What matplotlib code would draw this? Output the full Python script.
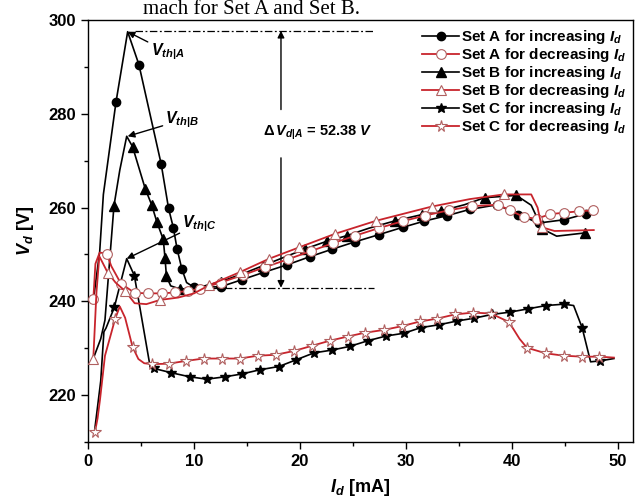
import matplotlib
matplotlib.use("Agg")
from matplotlib import pyplot as plt
from matplotlib.ticker import MultipleLocator

# 字体：Arial 风格的粗体
plt.rcParams["font.family"] = ["Liberation Sans", "DejaVu Sans"]
plt.rcParams["font.weight"] = "bold"
plt.rcParams["axes.labelweight"] = "bold"
plt.rcParams["mathtext.fontset"] = "custom"
plt.rcParams["mathtext.rm"] = "Liberation Sans:bold"
plt.rcParams["mathtext.it"] = "Liberation Sans:italic:bold"
plt.rcParams["mathtext.bf"] = "Liberation Sans:bold"

RED = "#c8242c"
OPEN_EDGE = "#b06060"

# Set A, 增大 I_d
a_up_x = [0.5, 1.1, 1.45, 2.64, 3.74, 4.8, 6.9, 7.6, 8.05, 8.4, 8.84, 9.3, 10.0, 12.5,
          14.5, 16.6, 18.8, 20.9, 23.0, 25.2, 27.4, 29.7, 31.7, 33.9, 36.0, 38.6, 40.6,
          42.5, 44.9, 47.0]
a_up_y = [240.2, 250.5, 262.8, 282.5, 297.5, 290.5, 269.3, 259.8, 255.7, 251.2, 247.0,
          244.0, 243.0, 243.1, 244.6, 246.2, 247.8, 249.5, 251.1, 252.7, 254.2, 255.8,
          257.1, 258.3, 259.6, 260.6, 258.5, 256.7, 257.4, 258.7]
a_up_mk = [3, 5, 6, 7, 8, 9, 10, 12] + list(range(13, 30))

# Set A, 减小 I_d
a_dn_x = [0.5, 0.7, 1.1, 1.76, 2.2, 3.1, 4.4, 5.7, 7.0, 8.2, 9.4, 10.6, 12.5, 14.6, 16.7,
          18.9, 21.0, 23.1, 25.2, 27.4, 29.7, 31.8, 34.0, 36.2, 38.7, 39.8, 41.1, 42.3,
          43.6, 44.9, 46.3, 47.6]
a_dn_y = [240.4, 248.0, 250.4, 250.2, 247.5, 243.8, 241.8, 241.7, 241.7, 241.9, 242.2,
          242.7, 244.0, 245.6, 247.3, 249.0, 250.7, 252.4, 254.0, 255.6, 257.1, 258.3,
          259.4, 260.3, 260.6, 259.4, 258.0, 257.6, 258.6, 258.9, 259.2, 259.4]
a_dn_mk = [0, 3] + list(range(5, 32))

# Set B, 增大 I_d
b_up_x = [0.5, 1.2, 1.6, 2.0, 2.45, 3.0, 3.65, 4.2, 5.4, 6.0, 6.5, 7.1, 7.26, 7.4, 7.8,
          8.7, 10.5, 12.5, 14.5, 16.5, 18.5, 20.5, 22.5, 24.4, 26.5, 29.0, 31.5, 33.3,
          35.5, 37.4, 40.4, 41.8, 42.5, 42.8, 44.2, 46.9]
b_up_y = [227.8, 232.0, 236.0, 247.5, 260.4, 268.0, 275.2, 273.0, 264.0, 260.6, 256.9,
          253.2, 249.3, 245.3, 243.3, 242.6, 243.0, 244.2, 245.8, 247.6, 249.4, 251.2,
          252.8, 254.0, 255.6, 257.2, 258.5, 259.3, 260.6, 262.1, 262.6, 260.5, 257.1,
          255.5, 253.9, 254.6]
b_up_mk = [4, 7, 8, 9, 10, 11, 12, 13, 15, 17, 19, 21, 22, 23, 25, 26, 27, 29, 30, 33, 35]

# Set B, 减小 I_d
b_dn_x = [0.5, 0.8, 1.07, 1.86, 2.6, 3.5, 4.4, 5.5, 6.8, 8.5, 10.0, 11.4, 14.3, 17.1,
          19.9, 23.3, 27.2, 32.4, 36.0, 39.2, 41.8, 42.4, 42.8, 44.0, 47.7]
b_dn_y = [227.8, 242.0, 249.6, 246.1, 244.0, 242.2, 239.6, 239.4, 240.3, 240.8, 241.7,
          243.4, 246.2, 249.1, 251.5, 254.4, 257.2, 260.2, 261.8, 262.8, 262.8, 260.0,
          255.8, 255.0, 255.2]
b_dn_mk = [0, 3, 5, 8, 11, 12, 13, 14, 15, 16, 17, 19, 22]

# Set C, 增大 I_d
c_up_x = [0.6, 1.2, 1.5, 1.7, 2.48, 3.65, 4.37, 5.85, 6.2, 7.8, 9.6, 11.2, 12.9, 14.5,
          16.2, 18.0, 19.6, 21.3, 23.0, 24.7, 26.4, 28.1, 29.8, 31.4, 33.1, 34.8, 36.4,
          38.1, 39.8, 41.5, 43.2, 44.9, 45.8, 46.6, 47.4, 48.3, 49.6]
c_up_y = [212.0, 223.0, 233.5, 234.3, 238.7, 249.1, 245.5, 226.2, 225.7, 224.8, 223.9,
          223.4, 223.9, 224.5, 225.4, 226.1, 227.5, 229.0, 229.6, 230.4, 231.6, 232.6,
          233.2, 234.4, 235.0, 235.8, 236.4, 237.2, 237.7, 238.4, 239.1, 239.4, 239.1,
          234.4, 227.1, 227.3, 227.8]
c_up_mk = [4, 6] + list(range(8, 32)) + [33, 35]

# Set C, 减小 I_d
c_dn_x = [0.66, 0.9, 1.13, 1.6, 2.2, 2.55, 3.0, 3.5, 4.2, 4.75, 5.3, 6.0, 7.6, 9.25,
          10.9, 12.6, 14.3, 16.0, 17.7, 19.4, 21.1, 22.8, 24.5, 26.1, 27.9, 29.6, 31.3,
          32.9, 34.6, 36.3, 38.0, 39.7, 40.7, 41.4, 43.2, 44.9, 46.6, 48.2, 49.6]
c_dn_y = [212.2, 215.0, 219.0, 228.4, 233.3, 236.2, 238.9, 236.5, 230.3, 227.7, 226.8,
          226.6, 226.7, 227.3, 227.8, 227.8, 227.8, 228.4, 228.6, 229.4, 230.5, 231.6,
          232.5, 233.3, 233.9, 234.7, 235.7, 236.3, 237.2, 237.6, 237.4, 235.6, 232.0,
          230.1, 228.9, 228.4, 228.2, 228.2, 228.0]
c_dn_mk = [0, 5, 8] + list(range(11, 32)) + [33, 34, 35, 36, 37]

# 阈值电压标注与 ΔV
v_peak_a = 297.7
v_floor_a = 242.9
delta_v_a = 52.38

fig = plt.figure(figsize=(6.37, 5.01), dpi=100)
ax = fig.add_axes([88 / 637, 59 / 501, 545 / 637, 422 / 501])

ax.plot(a_up_x, a_up_y, color="k", lw=1.2, marker="o", ms=6, mfc="k", mec="k",
        markevery=a_up_mk, label=r"Set A for increasing $I_d$", zorder=3)
ax.plot(a_dn_x, a_dn_y, color=RED, lw=1.3, marker="o", ms=7, mfc="white", mec=OPEN_EDGE,
        mew=0.8, markevery=a_dn_mk, label=r"Set A for decreasing $I_d$", zorder=4)
ax.plot(b_up_x, b_up_y, color="k", lw=1.2, marker="^", ms=6.5, mfc="k", mec="k",
        markevery=b_up_mk, label=r"Set B for increasing $I_d$", zorder=3)
ax.plot(b_dn_x, b_dn_y, color=RED, lw=1.3, marker="^", ms=7.5, mfc="white", mec=OPEN_EDGE,
        mew=0.8, markevery=b_dn_mk, label=r"Set B for decreasing $I_d$", zorder=4)
ax.plot(c_up_x, c_up_y, color="k", lw=1.2, marker="*", ms=7.5, mfc="k", mec="k",
        markevery=c_up_mk, label=r"Set C for increasing $I_d$", zorder=3)
ax.plot(c_dn_x, c_dn_y, color=RED, lw=1.3, marker="*", ms=8.5, mfc="white", mec=OPEN_EDGE,
        mew=0.8, markevery=c_dn_mk, label=r"Set C for decreasing $I_d$", zorder=4)

# 点划线和双向箭头
ax.plot([4.4, 27.1], [v_peak_a, v_peak_a], color="k", lw=0.9, dashes=(6, 2, 1.5, 2))
ax.plot([11.5, 27.0], [v_floor_a, v_floor_a], color="k", lw=0.9, dashes=(6, 2, 1.5, 2))
arrow = dict(arrowstyle="-|>", color="k", lw=1.0, mutation_scale=10, shrinkA=0, shrinkB=0)
ax.annotate("", xy=(18.2, v_peak_a), xytext=(18.2, 280.9), arrowprops=arrow)
ax.annotate("", xy=(18.2, v_floor_a), xytext=(18.2, 270.6), arrowprops=arrow)
ax.text(21.7, 276.0, r"$\Delta\, V_{d|A}$ = $%.2f\ V$" % delta_v_a, ha="center",
        va="center", fontsize=10.5)

# 阈值电压箭头
ax.annotate(r"$V_{th|A}$", xy=(3.74, 297.5), xytext=(5.9, 293.2), fontsize=11.5,
            va="center", arrowprops=arrow)
ax.annotate(r"$V_{th|B}$", xy=(3.74, 275.2), xytext=(7.3, 278.7), fontsize=11.5,
            va="center", arrowprops=arrow)
ax.annotate(r"$V_{th|C}$", xy=(3.65, 249.1), xytext=(8.9, 256.6), fontsize=11.5,
            va="center", arrowprops=arrow)

ax.set_xlim(0, 51.4)
ax.set_ylim(210, 300)
ax.xaxis.set_major_locator(MultipleLocator(10))
ax.xaxis.set_minor_locator(MultipleLocator(5))
ax.yaxis.set_minor_locator(MultipleLocator(10))
ax.set_yticks([220, 240, 260, 280, 300])
ax.tick_params(which="major", direction="out", length=5, width=1, labelsize=12)
ax.tick_params(which="minor", direction="out", length=3, width=1)
for s in ax.spines.values():
    s.set_linewidth(1.0)

ax.set_xlabel(r"$I_d$ [mA]", fontsize=13, labelpad=6)
ax.set_ylabel(r"$V_d$ [V]", fontsize=13, labelpad=9)

leg = ax.legend(loc="upper right", frameon=False, fontsize=11, handlelength=2.4,
                handletextpad=0.15, labelspacing=0.0, borderaxespad=0.0,
                bbox_to_anchor=(1.0, 0.995))

# 页面上方被截断的正文
fig.text(143 / 637, 1 - 14 / 501, "mach for Set A and Set B.", fontfamily="Liberation Serif",
         fontweight="normal", fontsize=15, va="baseline")

fig.savefig("out.png", dpi=100)
